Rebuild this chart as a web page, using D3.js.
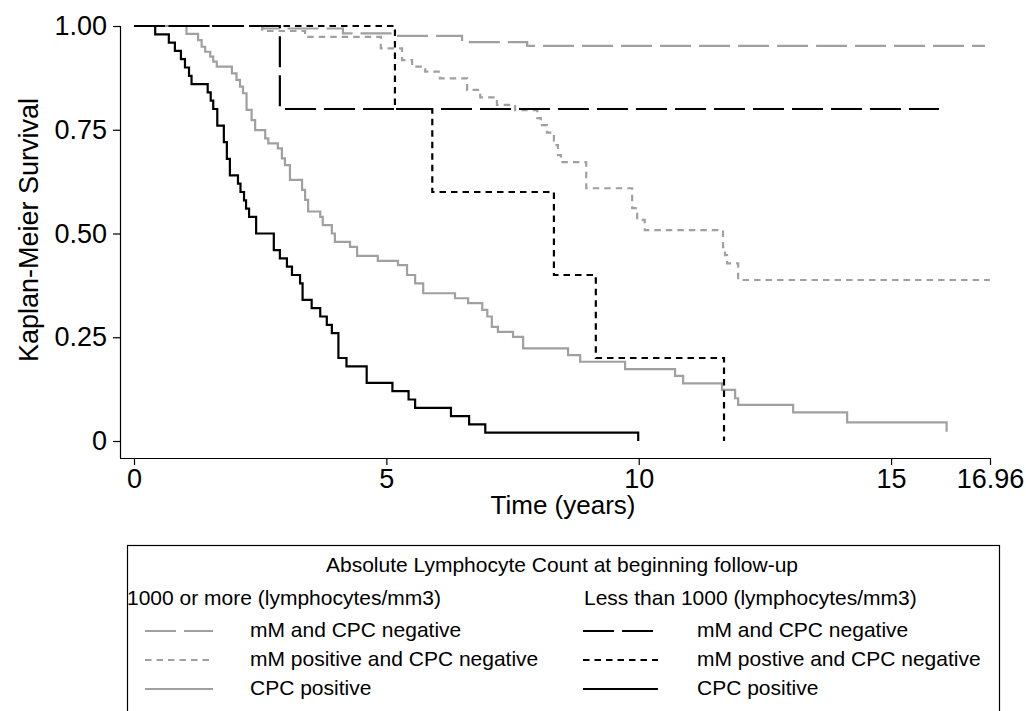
<!DOCTYPE html>
<html><head><meta charset="utf-8">
<script src="https://cdn.jsdelivr.net/npm/d3@7"></script>
<style>body{margin:0;background:#fff}svg{display:block}text{font-family:Arial,"Liberation Sans",sans-serif}</style>
</head><body><svg id="c" width="1026" height="711"></svg>
<script>
// ---- data (time in years, survival after each step) ----
const xTicks = [0, 5, 10, 15, 16.96];
const xTickLabels = ["0", "5", "10", "15", "16.96"];
const yTicks = [0, 0.25, 0.5, 0.75, 1];
const yTickLabels = ["0", "0.25", "0.50", "0.75", "1.00"];

// >=1000 lymphocytes/mm3
const hiNegTime = [0, 2.55, 4.14, 5.11, 6.50, 7.79, 16.86];
const hiNegSurv = [1, 0.994, 0.982, 0.976, 0.961, 0.952, 0.952];
const hiMmTime = [0, 2.54, 3.39, 4.89, 5.31, 5.51, 5.77, 6.06, 6.60, 6.86, 7.19, 7.55, 7.99, 8.06, 8.18, 8.32, 8.40, 8.46, 8.96, 9.87, 9.97, 10.12, 11.67, 11.71, 11.75, 11.97, 16.96];
const hiMmSurv = [1, 0.988, 0.974, 0.946, 0.918, 0.902, 0.890, 0.874, 0.846, 0.828, 0.810, 0.797, 0.778, 0.761, 0.743, 0.713, 0.689, 0.672, 0.609, 0.561, 0.533, 0.508, 0.467, 0.448, 0.428, 0.388, 0.388];
const hiCpcTime = [0, 1.04, 1.27, 1.34, 1.41, 1.51, 1.57, 1.64, 1.94, 2.03, 2.10, 2.16, 2.23, 2.33, 2.40, 2.60, 2.66, 2.85, 2.93, 2.99, 3.09, 3.33, 3.39, 3.45, 3.69, 3.74, 3.92, 3.98, 4.28, 4.42, 4.83, 5.23, 5.41, 5.57, 5.73, 6.36, 6.62, 6.90, 7.00, 7.09, 7.21, 7.51, 7.71, 8.60, 8.84, 9.73, 10.72, 10.88, 11.65, 11.91, 11.97, 13.06, 14.13, 16.10];
const hiCpcSurv = [1, 0.981, 0.966, 0.950, 0.938, 0.926, 0.914, 0.902, 0.886, 0.870, 0.854, 0.838, 0.798, 0.773, 0.749, 0.729, 0.717, 0.705, 0.681, 0.665, 0.629, 0.605, 0.581, 0.553, 0.540, 0.520, 0.500, 0.480, 0.468, 0.446, 0.434, 0.424, 0.400, 0.380, 0.356, 0.344, 0.332, 0.316, 0.300, 0.275, 0.263, 0.251, 0.223, 0.207, 0.191, 0.173, 0.157, 0.139, 0.123, 0.103, 0.087, 0.069, 0.045, 0.022];

// <1000 lymphocytes/mm3
const loNegTime = [0, 2.89, 15.95];
const loNegSurv = [1, 0.8, 0.8];
const loMmTime = [0, 5.17, 5.91, 8.32, 9.15, 11.69];
const loMmSurv = [1, 0.8, 0.6, 0.4, 0.2, 0];
const loCpcTime = [0, 0.42, 0.69, 0.81, 0.93, 1.01, 1.09, 1.14, 1.46, 1.52, 1.57, 1.65, 1.78, 1.84, 1.90, 2.06, 2.11, 2.18, 2.22, 2.28, 2.42, 2.77, 2.89, 3.03, 3.13, 3.29, 3.34, 3.52, 3.69, 3.82, 3.92, 4.05, 4.21, 4.61, 5.12, 5.44, 5.57, 6.28, 6.64, 6.96, 9.99];
const loCpcSurv = [1, 0.98, 0.96, 0.94, 0.92, 0.90, 0.88, 0.86, 0.84, 0.82, 0.80, 0.76, 0.72, 0.68, 0.64, 0.62, 0.60, 0.58, 0.56, 0.54, 0.50, 0.46, 0.44, 0.42, 0.40, 0.38, 0.34, 0.32, 0.30, 0.28, 0.26, 0.20, 0.18, 0.14, 0.12, 0.10, 0.08, 0.06, 0.04, 0.02, 0];

const legendTitle = "Absolute Lymphocyte Count at beginning follow-up";
const groupTitles = ["1000 or more (lymphocytes/mm3)", "Less than 1000 (lymphocytes/mm3)"];
const leftLabels = ["mM and CPC negative", "mM positive and CPC negative", "CPC positive"];
const rightLabels = ["mM and CPC negative", "mM postive and CPC negative", "CPC positive"];

// ---- styles ----
const GRAY = "#a0a0a0", BLACK = "#000";
const LONG = "31,8", SHORT = "6.5,5";
const series = [
  {t: hiNegTime, s: hiNegSurv, c: GRAY, d: LONG},
  {t: hiMmTime, s: hiMmSurv, c: GRAY, d: SHORT},
  {t: hiCpcTime, s: hiCpcSurv, c: GRAY, d: null},
  {t: loNegTime, s: loNegSurv, c: BLACK, d: LONG},
  {t: loMmTime, s: loMmSurv, c: BLACK, d: SHORT},
  {t: loCpcTime, s: loCpcSurv, c: BLACK, d: null}
];

const svg = d3.select("#c");
const x = d3.scaleLinear().domain([0, 16.96]).range([134, 990]);
const y = d3.scaleLinear().domain([0, 1]).range([441, 26]);

// axes
const xAxis = d3.axisBottom(x).tickValues(xTicks).tickFormat((d, i) => xTickLabels[i]).tickSize(7).tickPadding(4);
const gx = svg.append("g").attr("transform", "translate(0,458)").call(xAxis);
gx.select(".domain").attr("d", "M120,0.5H990");
const yAxis = d3.axisLeft(y).tickValues(yTicks).tickFormat((d, i) => yTickLabels[i]).tickSize(7).tickPadding(6);
const gy = svg.append("g").attr("transform", "translate(120,0)").call(yAxis);
gy.select(".domain").attr("d", "M0.5,26V458");
[gx, gy].forEach(g => {
  g.selectAll("path,line").attr("stroke", "#000").attr("stroke-width", 1.2);
  g.selectAll("text").attr("font-size", 27).attr("fill", "#000").attr("font-family", "Arial, 'Liberation Sans', sans-serif");
});

svg.append("text").attr("x", 563).attr("y", 514).attr("text-anchor", "middle").attr("font-size", 26).text("Time (years)");
svg.append("text").attr("transform", "translate(38,230) rotate(-90)").attr("text-anchor", "middle").attr("font-size", 27).text("Kaplan-Meier Survival");

// curves
const line = d3.line().x(d => x(d[0])).y(d => y(d[1])).curve(d3.curveStepAfter);
series.forEach(se => {
  const pts = se.t.map((t, i) => [t, se.s[i]]);
  svg.append("path").attr("d", line(pts)).attr("fill", "none").attr("stroke", se.c)
    .attr("stroke-width", 2.2).attr("stroke-dasharray", se.d);
});

// legend
const lg = svg.append("g");
lg.append("rect").attr("x", 127.5).attr("y", 545.5).attr("width", 872).attr("height", 200).attr("fill", "none").attr("stroke", "#000").attr("stroke-width", 1.2);
lg.append("text").attr("x", 562).attr("y", 572).attr("text-anchor", "middle").attr("font-size", 21).text(legendTitle);
lg.append("text").attr("x", 127).attr("y", 605).attr("font-size", 21).text(groupTitles[0]);
lg.append("text").attr("x", 584).attr("y", 605).attr("font-size", 21).text(groupTitles[1]);
const rowY = [637, 666, 695];
const cols = [
  {x1: 145, x2: 213, tx: 250, labels: leftLabels, s: series.slice(0, 3)},
  {x1: 583, x2: 658, tx: 697, labels: rightLabels, s: series.slice(3, 6)}
];
cols.forEach(col => {
  col.labels.forEach((lab, i) => {
    lg.append("line").attr("x1", col.x1).attr("x2", col.x2).attr("y1", rowY[i] - 6).attr("y2", rowY[i] - 6)
      .attr("stroke", col.s[i].c).attr("stroke-width", 2.2).attr("stroke-dasharray", col.s[i].d);
    lg.append("text").attr("x", col.tx).attr("y", rowY[i]).attr("font-size", 21).text(lab);
  });
});
</script></body></html>
